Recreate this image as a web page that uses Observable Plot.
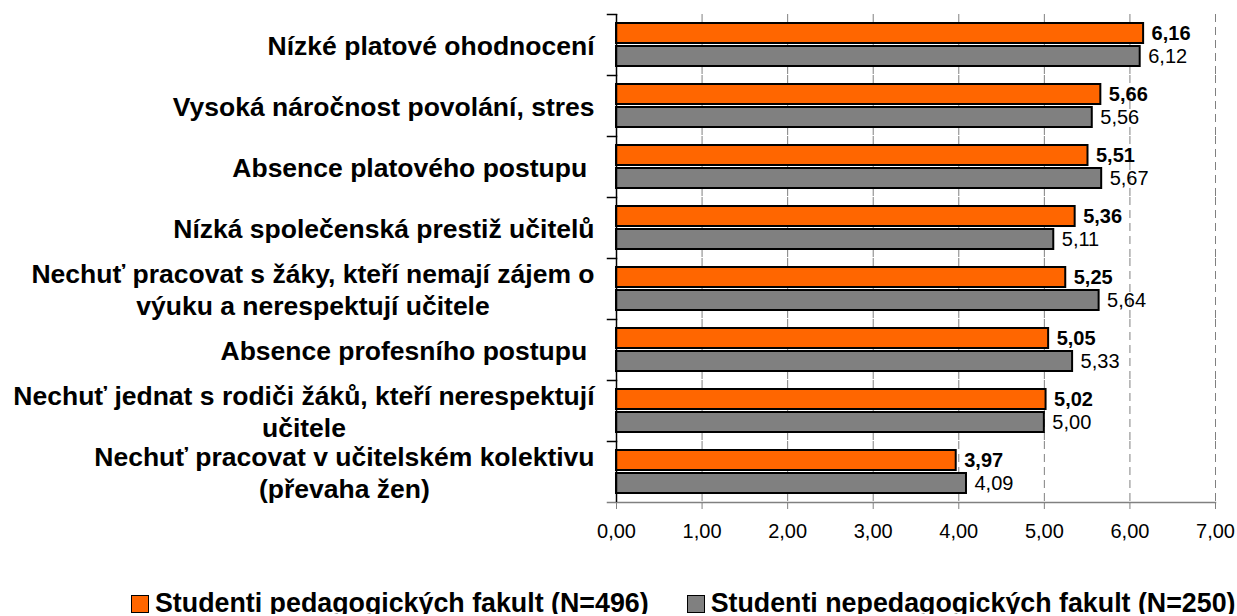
<!DOCTYPE html>
<html>
<head>
<meta charset="utf-8">
<script src="https://cdn.jsdelivr.net/npm/d3@7"></script>
<script src="https://cdn.jsdelivr.net/npm/@observablehq/plot@0.6"></script>
<style>
  html, body { margin: 0; padding: 0; background: #fff; overflow: hidden; }
  #legend { height: 26px; line-height: 26px; padding-left: 131px; white-space: nowrap;
    font: bold 26.8px "Liberation Sans", Arial, sans-serif; color: #000; }
  .item { display: inline-block; }
  .item + .item { margin-left: 38px; }
  .sw { display: inline-block; width: 16px; height: 16px; border: 1.5px solid #000; margin-right: 6px; vertical-align: -1px; }
</style>
</head>
<body>
<div id="chart"></div>
<div id="legend"></div>
<script>
const categories = [
  "Nízké platové ohodnocení",
  "Vysoká náročnost povolání, stres",
  "Absence platového postupu ",
  "Nízká společenská prestiž učitelů",
  "Nechuť pracovat s žáky, kteří nemají zájem o\nvýuku a nerespektují učitele",
  "Absence profesního postupu ",
  "Nechuť jednat s rodiči žáků, kteří nerespektují\nučitele",
  "Nechuť pracovat v učitelském kolektivu\n(převaha žen)"
];
const seriesNames = ["Studenti pedagogických fakult (N=496)", "Studenti nepedagogických fakult (N=250)"];
const pedagogical = [6.16, 5.66, 5.51, 5.36, 5.25, 5.05, 5.02, 3.97];
const nonPedagogical = [6.12, 5.56, 5.67, 5.11, 5.64, 5.33, 5.00, 4.09];
const xTicks = [0, 1, 2, 3, 4, 5, 6, 7];
const colors = ["#FF6600", "#808080"];

const fmt = d => d.toFixed(2).replace(".", ",");
const rows = [];
categories.forEach((c, i) => {
  rows.push({cat: c, series: seriesNames[0], value: pedagogical[i]});
  rows.push({cat: c, series: seriesNames[1], value: nonPedagogical[i]});
});

const FONT = '"Liberation Sans", Arial, sans-serif';
const LABEL_SIZE = 26.5;
const ctx = document.createElement("canvas").getContext("2d");
ctx.font = `bold ${LABEL_SIZE}px 'Liberation Sans'`;
const labelMarks = categories.map(c => {
  const w = Math.max(...c.split("\n").map(l => ctx.measureText(l).width));
  return Plot.text([c], {
    fy: d => d, text: d => d, frameAnchor: "left", textAnchor: "middle",
    dx: -(22 + w / 2), lineHeight: 1.2, fontSize: LABEL_SIZE, fontWeight: "bold", fill: "#000"
  });
});

const chart = Plot.plot({
  width: 1237,
  height: 588,
  marginLeft: 616,
  marginRight: 22,
  marginTop: 13,
  marginBottom: 85,
  style: {fontFamily: FONT, background: "#fff", color: "#000"},
  x: {domain: [0, 7], axis: null},
  fy: {domain: categories, padding: 0, axis: null},
  y: {domain: seriesNames, paddingInner: 0.113, paddingOuter: 0.343, axis: null},
  color: {domain: seriesNames, range: colors},
  marks: [
    Plot.gridX(xTicks.slice(1), {stroke: "#808080", strokeOpacity: 1, strokeWidth: 1, strokeDasharray: "8,5"}),
    Plot.barX(rows, {fy: "cat", y: "series", x: "value", fill: "series", stroke: "#000", strokeWidth: 2}),
    Plot.text(rows.filter(d => d.series === seriesNames[0]), {
      fy: "cat", y: "series", x: "value", text: d => fmt(d.value),
      textAnchor: "start", dx: 8, fontSize: 20, fontWeight: "bold", fill: "#000"
    }),
    Plot.text(rows.filter(d => d.series === seriesNames[1]), {
      fy: "cat", y: "series", x: "value", text: d => fmt(d.value),
      textAnchor: "start", dx: 8, fontSize: 20, fill: "#000"
    }),
    Plot.frame({anchor: "top", stroke: "#000", strokeWidth: 1.5, insetLeft: -9, insetRight: 599}),
    Plot.frame({anchor: "bottom", stroke: "#808080", strokeWidth: 1.5, insetLeft: -9, facetAnchor: "bottom"}),
    Plot.ruleX([0], {stroke: "#000", strokeWidth: 1.5}),
    Plot.axisX(xTicks, {
      anchor: "bottom", tickSize: 7, tickPadding: 14, tickFormat: fmt,
      stroke: "#808080", fill: "#000", fontSize: 20, label: null
    }),
    ...labelMarks
  ]
});
document.getElementById("chart").appendChild(chart);

const legend = document.getElementById("legend");
seriesNames.forEach((s, i) => {
  const item = document.createElement("span");
  item.className = "item";
  const sw = document.createElement("span");
  sw.className = "sw";
  sw.style.background = colors[i];
  item.appendChild(sw);
  item.appendChild(document.createTextNode(s));
  legend.appendChild(item);
});
</script>
</body>
</html>
